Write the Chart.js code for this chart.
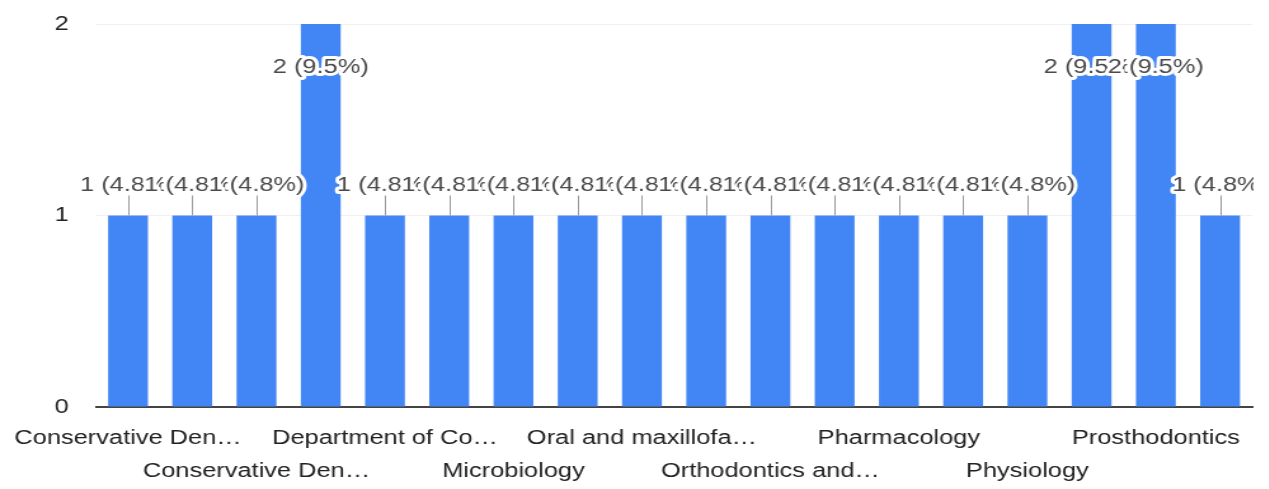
<!DOCTYPE html>
<html>
<head>
<meta charset="utf-8">
<script src="https://cdn.jsdelivr.net/npm/chart.js@4.4.1/dist/chart.umd.min.js"></script>
<style>
  html, body { margin: 0; padding: 0; background: #fff; overflow: hidden; }
  #wrap {
    position: absolute; left: 0; top: 0;
    width: 999px; height: 489px;
    transform: scaleX(1.27); transform-origin: 0 0;
  }
</style>
</head>
<body>
<div id="wrap"><canvas id="chart"></canvas></div>
<script>
const categories = [
    'Conservative Dentistry',
    'Conservative Dentistry and Endodontics',
    'Conservative Dentistry & Endodontics',
    'Dental Anatomy',
    'Department of Conservative Dentistry',
    'Department of Prosthodontics',
    'Microbiology',
    'Oral and Maxillofacial Pathology',
    'Oral and maxillofacial surgery',
    'Oral Medicine and Radiology',
    'Orthodontics and Dentofacial Orthopedics',
    'Pediatric Dentistry',
    'Pharmacology',
    'Pharmacy',
    'Physiology',
    'Prosthetic Dentistry',
    'Prosthodontics',
    'Public Health Dentistry'
];
const responses = [1, 1, 1, 2, 1, 1, 1, 1, 1, 1, 1, 1, 1, 1, 1, 2, 2, 1];
const yTicks = [0, 1, 2];

const FONT = '"Liberation Sans", Arial, sans-serif';
const total = responses.reduce((a, b) => a + b, 0);

const measureCtx = document.createElement('canvas').getContext('2d');
measureCtx.font = '20px ' + FONT;

function truncate(text, maxWidth) {
    if (measureCtx.measureText(text).width <= maxWidth) return text;
    let s = text;
    while (s.length > 1 && measureCtx.measureText(s + '\u2026').width > maxWidth) {
        s = s.slice(0, -1);
    }
    return s.trimEnd() + '\u2026';
}

// value labels with a small stem, drawn like the Google Forms summary
const annotations = {
    id: 'annotations',
    afterDatasetsDraw(chart) {
        const ctx = chart.ctx;
        const area = chart.chartArea;
        const bars = chart.getDatasetMeta(0).data;
        ctx.save();
        ctx.beginPath();
        ctx.rect(0, 0, area.right + 1, chart.height);
        ctx.clip();
        ctx.font = '20px ' + FONT;
        ctx.textAlign = 'center';
        ctx.textBaseline = 'middle';
        ctx.lineJoin = 'round';
        bars.forEach((bar, i) => {
            const v = responses[i];
            const text = v + ' (' + (v / total * 100).toFixed(1) + '%)';
            let ty;
            if (bar.y - 40 < area.top) {
                ty = bar.y + 43;
            } else {
                ctx.strokeStyle = '#999';
                ctx.lineWidth = 1;
                ctx.beginPath();
                ctx.moveTo(Math.round(bar.x) + 0.5, bar.y);
                ctx.lineTo(Math.round(bar.x) + 0.5, bar.y - 20);
                ctx.stroke();
                ty = bar.y - 30;
            }
            ctx.strokeStyle = '#fff';
            ctx.lineWidth = 6;
            ctx.strokeText(text, bar.x, ty);
            ctx.fillStyle = '#4a4a4a';
            ctx.fillText(text, bar.x, ty);
        });
        ctx.restore();
    }
};

new Chart(document.getElementById('chart'), {
    type: 'bar',
    data: {
        labels: categories,
        datasets: [{
            data: responses,
            backgroundColor: '#4285f4',
            categoryPercentage: 1,
            barPercentage: 0.62
        }]
    },
    options: {
        responsive: true,
        maintainAspectRatio: false,
        animation: false,
        layout: { padding: { top: 24, right: 13, bottom: 0, left: 0 } },
        scales: {
            x: {
                grid: { display: false, drawTicks: false },
                border: { display: true, color: '#444', width: 2 },
                afterFit: (scale) => {
                    scale.height = 82;
                    scale.paddingLeft = 0;
                    scale.paddingRight = 0;
                },
                ticks: {
                    autoSkip: false,
                    maxRotation: 0,
                    minRotation: 0,
                    padding: 15,
                    color: '#222',
                    font: { family: FONT, size: 20, lineHeight: 1.65 },
                    callback: function (value, index) {
                        const label = truncate(this.getLabelForValue(value), 182);
                        if (index % 4 === 0) return label;
                        if (index % 4 === 2) return ['', label];
                        return '';
                    }
                }
            },
            y: {
                min: 0,
                max: 2,
                grid: { color: '#f0f0f0', drawTicks: false },
                border: { display: false },
                afterFit: (scale) => {
                    scale.width = 75.5;
                    scale.paddingTop = 0;
                    scale.paddingBottom = 0;
                },
                afterBuildTicks: (scale) => { scale.ticks = yTicks.map(v => ({ value: v })); },
                ticks: {
                    padding: 21.5,
                    color: '#222',
                    font: { family: FONT, size: 20 }
                }
            }
        },
        plugins: {
            legend: { display: false },
            tooltip: { enabled: false }
        }
    },
    plugins: [annotations]
});
</script>
</body>
</html>
